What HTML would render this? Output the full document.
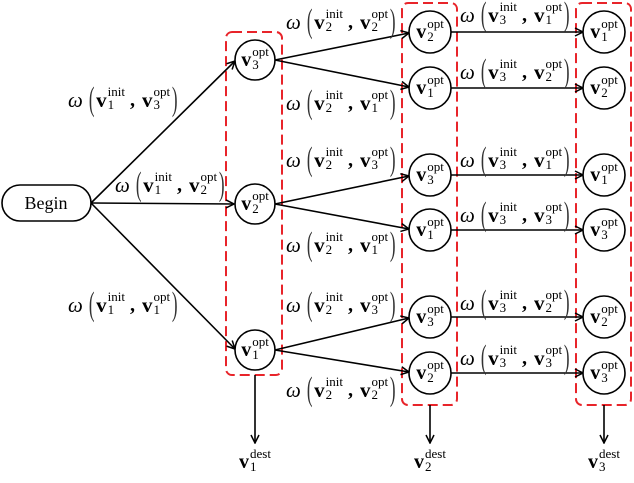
<!DOCTYPE html>
<html><head><meta charset="utf-8"><style>
body{margin:0;width:634px;height:474px;background:#fff;position:relative;overflow:hidden;font-family:"Liberation Serif",serif}
svg{position:absolute;left:0;top:0}
.lab{position:absolute;white-space:nowrap;display:flex;align-items:center;height:30px;color:#000}
.w{font-style:italic;font-size:21px;margin-right:4px}
.p{font-size:34px;display:inline-block;transform:scaleX(.5);font-weight:normal;color:#333;line-height:30px;margin:0 -1px}
.v{font-weight:bold;font-size:21px}
.s{display:inline-flex;flex-direction:column;font-size:13px;line-height:13px;margin-left:1px;margin-top:-4px}
.c{font-weight:bold;font-size:20px;margin:0 7px 0 5px}
.nd{position:absolute;display:flex;align-items:center;justify-content:center;width:42px;height:42px}
.nd .v{font-size:20px}
</style></head><body>
<svg width="634" height="474" viewBox="0 0 634 474">
<defs><marker id="a" markerWidth="10" markerHeight="10" refX="9" refY="5" orient="auto" markerUnits="userSpaceOnUse"><path d="M1,1 L9,5 L1,9" fill="none" stroke="#000" stroke-width="1.5"/></marker></defs>
<g fill="none" stroke="#e8242a" stroke-width="2" stroke-dasharray="10,5">
<rect x="226" y="32" width="56" height="343" rx="6"/>
<rect x="402" y="3" width="55" height="402" rx="6"/>
<rect x="576" y="3" width="55" height="402" rx="6"/>
</g>
<rect x="2" y="185" width="89" height="36" rx="18" fill="#fff" stroke="#000" stroke-width="1.6"/>
<text x="46" y="209" font-size="18" text-anchor="middle" font-family="Liberation Serif">Begin</text>
<g stroke="#000" stroke-width="1.6" marker-end="url(#a)">
<line x1="91" y1="203" x2="235" y2="61"/>
<line x1="91" y1="203" x2="234" y2="204"/>
<line x1="91" y1="203" x2="235" y2="349"/>
<line x1="275" y1="60" x2="409" y2="33"/>
<line x1="275" y1="60" x2="409" y2="87"/>
<line x1="275" y1="204" x2="409" y2="176"/>
<line x1="275" y1="204" x2="409" y2="229"/>
<line x1="275" y1="350" x2="409" y2="318"/>
<line x1="275" y1="350" x2="409" y2="372"/>
<line x1="451" y1="32" x2="583" y2="32"/>
<line x1="451" y1="88" x2="583" y2="88"/>
<line x1="451" y1="175" x2="583" y2="175"/>
<line x1="451" y1="230" x2="583" y2="230"/>
<line x1="451" y1="317" x2="583" y2="317"/>
<line x1="451" y1="373" x2="583" y2="373"/>
<line x1="255" y1="375" x2="255" y2="443"/>
<line x1="430" y1="405" x2="430" y2="443"/>
<line x1="604" y1="405" x2="604" y2="443"/>
</g>
<g fill="#fff" stroke="#000" stroke-width="1.6">
<circle cx="255" cy="60" r="20"/><circle cx="255" cy="204" r="20"/><circle cx="255" cy="350" r="20"/>
<circle cx="430" cy="32" r="21"/><circle cx="430" cy="88" r="21"/><circle cx="430" cy="175" r="21"/><circle cx="430" cy="230" r="21"/><circle cx="430" cy="317" r="21"/><circle cx="430" cy="373" r="21"/>
<circle cx="604" cy="32" r="21"/><circle cx="604" cy="88" r="21"/><circle cx="604" cy="175" r="21"/><circle cx="604" cy="230" r="21"/><circle cx="604" cy="317" r="21"/><circle cx="604" cy="373" r="21"/>
</g>
</svg>

<div class="nd" style="left:234px;top:39px"><span class="v">v</span><span class="s"><span>opt</span><span>3</span></span></div>
<div class="nd" style="left:234px;top:183px"><span class="v">v</span><span class="s"><span>opt</span><span>2</span></span></div>
<div class="nd" style="left:234px;top:329px"><span class="v">v</span><span class="s"><span>opt</span><span>1</span></span></div>

<div class="nd" style="left:409px;top:11px"><span class="v">v</span><span class="s"><span>opt</span><span>2</span></span></div>
<div class="nd" style="left:409px;top:67px"><span class="v">v</span><span class="s"><span>opt</span><span>1</span></span></div>
<div class="nd" style="left:409px;top:154px"><span class="v">v</span><span class="s"><span>opt</span><span>3</span></span></div>
<div class="nd" style="left:409px;top:209px"><span class="v">v</span><span class="s"><span>opt</span><span>1</span></span></div>
<div class="nd" style="left:409px;top:296px"><span class="v">v</span><span class="s"><span>opt</span><span>3</span></span></div>
<div class="nd" style="left:409px;top:352px"><span class="v">v</span><span class="s"><span>opt</span><span>2</span></span></div>

<div class="nd" style="left:583px;top:11px"><span class="v">v</span><span class="s"><span>opt</span><span>1</span></span></div>
<div class="nd" style="left:583px;top:67px"><span class="v">v</span><span class="s"><span>opt</span><span>2</span></span></div>
<div class="nd" style="left:583px;top:154px"><span class="v">v</span><span class="s"><span>opt</span><span>1</span></span></div>
<div class="nd" style="left:583px;top:209px"><span class="v">v</span><span class="s"><span>opt</span><span>3</span></span></div>
<div class="nd" style="left:583px;top:296px"><span class="v">v</span><span class="s"><span>opt</span><span>2</span></span></div>
<div class="nd" style="left:583px;top:352px"><span class="v">v</span><span class="s"><span>opt</span><span>3</span></span></div>

<div class="nd" style="left:234px;top:441px"><span class="v">v</span><span class="s"><span>dest</span><span>1</span></span></div>
<div class="nd" style="left:409px;top:441px"><span class="v">v</span><span class="s"><span>dest</span><span>2</span></span></div>
<div class="nd" style="left:583px;top:441px"><span class="v">v</span><span class="s"><span>dest</span><span>3</span></span></div>

<div class="lab" style="left:68px;top:85px"><span class="w">ω</span><span class="p">(</span><span class="v">v</span><span class="s"><span>init</span><span>1</span></span><span class="c">,</span><span class="v">v</span><span class="s"><span>opt</span><span>3</span></span><span class="p">)</span></div>
<div class="lab" style="left:115px;top:170px"><span class="w">ω</span><span class="p">(</span><span class="v">v</span><span class="s"><span>init</span><span>1</span></span><span class="c">,</span><span class="v">v</span><span class="s"><span>opt</span><span>2</span></span><span class="p">)</span></div>
<div class="lab" style="left:68px;top:290px"><span class="w">ω</span><span class="p">(</span><span class="v">v</span><span class="s"><span>init</span><span>1</span></span><span class="c">,</span><span class="v">v</span><span class="s"><span>opt</span><span>1</span></span><span class="p">)</span></div>

<div class="lab" style="left:286px;top:7px"><span class="w">ω</span><span class="p">(</span><span class="v">v</span><span class="s"><span>init</span><span>2</span></span><span class="c">,</span><span class="v">v</span><span class="s"><span>opt</span><span>2</span></span><span class="p">)</span></div>
<div class="lab" style="left:286px;top:88px"><span class="w">ω</span><span class="p">(</span><span class="v">v</span><span class="s"><span>init</span><span>2</span></span><span class="c">,</span><span class="v">v</span><span class="s"><span>opt</span><span>1</span></span><span class="p">)</span></div>
<div class="lab" style="left:286px;top:145px"><span class="w">ω</span><span class="p">(</span><span class="v">v</span><span class="s"><span>init</span><span>2</span></span><span class="c">,</span><span class="v">v</span><span class="s"><span>opt</span><span>3</span></span><span class="p">)</span></div>
<div class="lab" style="left:286px;top:230px"><span class="w">ω</span><span class="p">(</span><span class="v">v</span><span class="s"><span>init</span><span>2</span></span><span class="c">,</span><span class="v">v</span><span class="s"><span>opt</span><span>1</span></span><span class="p">)</span></div>
<div class="lab" style="left:286px;top:290px"><span class="w">ω</span><span class="p">(</span><span class="v">v</span><span class="s"><span>init</span><span>2</span></span><span class="c">,</span><span class="v">v</span><span class="s"><span>opt</span><span>3</span></span><span class="p">)</span></div>
<div class="lab" style="left:286px;top:375px"><span class="w">ω</span><span class="p">(</span><span class="v">v</span><span class="s"><span>init</span><span>2</span></span><span class="c">,</span><span class="v">v</span><span class="s"><span>opt</span><span>2</span></span><span class="p">)</span></div>

<div class="lab" style="left:460px;top:0px"><span class="w">ω</span><span class="p">(</span><span class="v">v</span><span class="s"><span>init</span><span>3</span></span><span class="c">,</span><span class="v">v</span><span class="s"><span>opt</span><span>1</span></span><span class="p">)</span></div>
<div class="lab" style="left:460px;top:57px"><span class="w">ω</span><span class="p">(</span><span class="v">v</span><span class="s"><span>init</span><span>3</span></span><span class="c">,</span><span class="v">v</span><span class="s"><span>opt</span><span>2</span></span><span class="p">)</span></div>
<div class="lab" style="left:460px;top:145px"><span class="w">ω</span><span class="p">(</span><span class="v">v</span><span class="s"><span>init</span><span>3</span></span><span class="c">,</span><span class="v">v</span><span class="s"><span>opt</span><span>1</span></span><span class="p">)</span></div>
<div class="lab" style="left:460px;top:200px"><span class="w">ω</span><span class="p">(</span><span class="v">v</span><span class="s"><span>init</span><span>3</span></span><span class="c">,</span><span class="v">v</span><span class="s"><span>opt</span><span>3</span></span><span class="p">)</span></div>
<div class="lab" style="left:460px;top:288px"><span class="w">ω</span><span class="p">(</span><span class="v">v</span><span class="s"><span>init</span><span>3</span></span><span class="c">,</span><span class="v">v</span><span class="s"><span>opt</span><span>2</span></span><span class="p">)</span></div>
<div class="lab" style="left:460px;top:343px"><span class="w">ω</span><span class="p">(</span><span class="v">v</span><span class="s"><span>init</span><span>3</span></span><span class="c">,</span><span class="v">v</span><span class="s"><span>opt</span><span>3</span></span><span class="p">)</span></div>
</body></html>
